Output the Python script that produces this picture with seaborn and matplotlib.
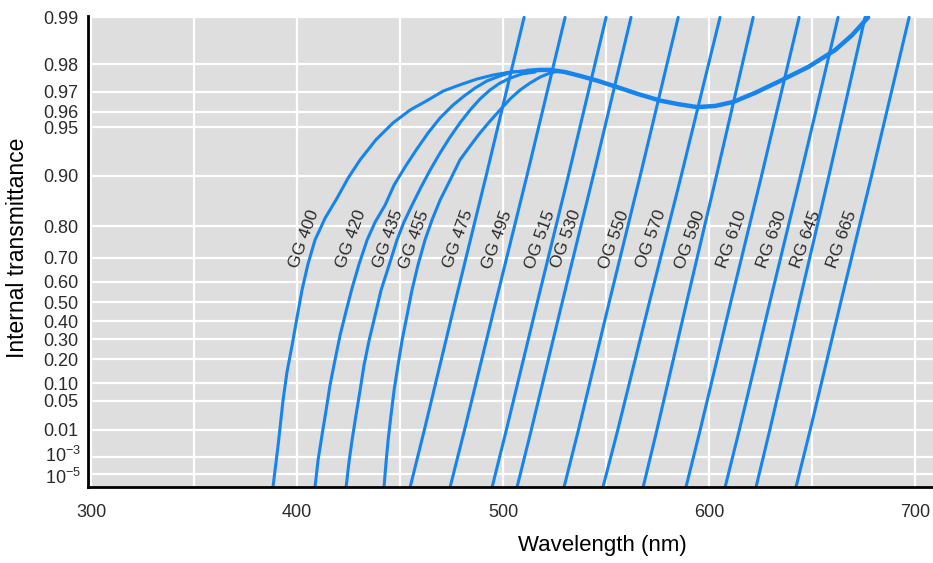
"""
Schott long-pass filter edges: internal transmittance vs wavelength.
Y axis uses a log(-ln T) (log optical density) scale, squeezed below 1e-3.
"""

import numpy as np
import pandas as pd
import matplotlib
matplotlib.use("Agg")
import matplotlib.pyplot as plt
import seaborn as sns
from matplotlib.ticker import FixedLocator, FixedFormatter
from matplotlib.transforms import blended_transform_factory, offset_copy

# ---- data (wavelength in nm, internal transmittance) ----
# steep edges: wavelength read at these transmittance levels
EDGE_T = [5e-8, 0.01, 0.5, 0.9, 0.99]
GG475_WL = [454.9, 461.8, 476.7, 491.8, 510.2]
GG495_WL = [474.3, 481.3, 496.4, 511.6, 530.1]
OG515_WL = [494.7, 501.6, 516.6, 531.7, 550.0]
OG530_WL = [506.8, 513.7, 528.7, 543.8, 562.1]
OG550_WL = [529.6, 536.6, 551.5, 566.6, 585.0]
OG570_WL = [548.5, 555.7, 571.0, 586.5, 605.3]
OG590_WL = [568.0, 574.7, 589.1, 603.6, 621.4]
RG610_WL = [588.8, 595.7, 610.5, 625.5, 643.7]
RG630_WL = [607.8, 614.7, 629.5, 644.4, 662.6]
RG645_WL = [622.8, 629.5, 643.8, 658.2, 675.7]
RG665_WL = [642.2, 649.1, 663.9, 678.9, 697.1]

# GG curves that roll over into the common plateau
GG400_WL = [388.3, 390.8, 393.2, 395.1, 397.6, 400.0, 402.4, 405.3, 408.7, 413.6, 419.4, 424.8,
            430.6, 438.3, 446.6, 454.9, 463.1, 470.9, 479.1, 487.4, 495.1, 503.4, 511.7]
GG400_T = [5e-8, 0.00311, 0.052, 0.142, 0.271, 0.422, 0.562, 0.676, 0.760, 0.820, 0.863, 0.8965,
           0.920, 0.940, 0.953, 0.961, 0.966, 0.9704, 0.973, 0.9752, 0.9766, 0.9776, 0.978]
GG420_WL = [408.7, 410.2, 412.1, 414.1, 416.0, 418.4, 420.9, 423.8, 426.7, 430.1, 434.0, 437.9, 442.7,
            447.1, 452.4, 457.8, 463.6, 469.4, 475.7, 481.1, 486.4, 492.2, 498.5, 504.4, 511.7]
GG420_T = [5e-8, 5.4e-4, 0.00687, 0.0323, 0.0939, 0.1953, 0.324, 0.4545, 0.571, 0.6756, 0.760, 0.8104,
           0.849, 0.8858, 0.9113, 0.9304, 0.9456, 0.9562, 0.9637, 0.9682, 0.9717, 0.9745, 0.9763,
           0.9776, 0.978]
GG435_WL = [423.8, 425.2, 426.7, 428.6, 430.6, 432.5, 435.0, 437.9, 440.8, 444.7, 448.5, 451.9, 455.8,
            460.2, 464.6, 469.4, 474.3, 479.1, 484.0, 488.8, 493.7, 498.5, 503.4, 509.2, 515.5]
GG435_T = [5e-8, 3.4e-4, 0.0047, 0.0248, 0.078, 0.172, 0.297, 0.433, 0.562, 0.672, 0.760, 0.8104,
           0.849, 0.8825, 0.9075, 0.9274, 0.9423, 0.953, 0.961, 0.9668, 0.9709, 0.9737, 0.9755,
           0.977, 0.9776]
GG455_WL = [442.2, 443.2, 444.2, 445.6, 447.1, 449.0, 451.0, 453.4, 455.8, 458.7, 462.1, 465.5, 469.4,
            474.3, 479.1, 484.0, 488.8, 493.7, 498.5, 503.4, 508.3, 513.1, 518.0, 522.8, 527.7]
GG455_T = [5e-8, 3.4e-4, 0.0047, 0.0248, 0.078, 0.172, 0.297, 0.433, 0.562, 0.672, 0.760, 0.8155,
           0.859, 0.8935, 0.920, 0.9343, 0.9456, 0.9542, 0.961, 0.9668, 0.9709, 0.9737, 0.9759,
           0.9773, 0.978]

# plateau shared by the GG glasses
PLATEAU_WL = [511.7, 518.0, 522.8, 530.1, 537.4, 546.1, 555.3, 565.5, 576.2, 584.9, 594.2,
              602.9, 611.7, 622.3, 634.5, 648.1, 661.2, 669.4, 677.2]
PLATEAU_T = [0.978, 0.9783, 0.9783, 0.9776, 0.9763, 0.9745, 0.9721, 0.9691, 0.966, 0.9642, 0.9626,
             0.9632, 0.9653, 0.9696, 0.9745, 0.9792, 0.9838, 0.987, 0.99]

FILTER_NAMES = ["GG 400", "GG 420", "GG 435", "GG 455", "GG 475", "GG 495", "OG 515", "OG 530",
                "OG 550", "OG 570", "OG 590", "RG 610", "RG 630", "RG 645", "RG 665"]
LABEL_WL = [403.4, 426.2, 444.2, 456.8, 478.2, 497.1, 518.0, 530.6,
            553.9, 571.8, 590.8, 611.2, 630.6, 647.1, 664.6]
LABEL_T = 0.762

Y_TICKS = [0.99, 0.98, 0.97, 0.96, 0.95, 0.90, 0.80, 0.70, 0.60, 0.50,
           0.40, 0.30, 0.20, 0.10, 0.05, 0.01, 1e-3, 1e-5]
Y_TICK_LABELS = ["0.99", "0.98", "0.97", "0.96", "0.95", "0.90", "0.80", "0.70", "0.60", "0.50",
                 "0.40", "0.30", "0.20", "0.10", "0.05", "0.01", "", ""]
POWER_TICKS = [1e-3, 1e-5]
POWER_LABELS = [r"$10^{-3}$", r"$10^{-5}$"]
X_TICKS = [300, 400, 500, 600, 700]
X_GRID = [350, 450, 550, 650]

BLUE = "#1684ee"
TEXT = "#2b2b2b"

# ---- y scale: log10(-ln T), compressed by half below T = 1e-3 ----
Q_KNEE = np.log10(-np.log(1e-3))


def forward(t):
    t = np.clip(np.asarray(t, dtype=float), 1e-300, 1 - 1e-12)
    q = np.log10(-np.log(t))
    q = np.where(q > Q_KNEE, Q_KNEE + (q - Q_KNEE) * 0.5, q)
    return -q


def inverse(y):
    q = -np.asarray(y, dtype=float)
    q = np.where(q > Q_KNEE, Q_KNEE + (q - Q_KNEE) * 2.0, q)
    with np.errstate(over="ignore"):
        return np.exp(-np.power(10.0, q))


# ---- long table for seaborn ----
edges = {
    "GG 475": GG475_WL, "GG 495": GG495_WL, "OG 515": OG515_WL, "OG 530": OG530_WL,
    "OG 550": OG550_WL, "OG 570": OG570_WL, "OG 590": OG590_WL, "RG 610": RG610_WL,
    "RG 630": RG630_WL, "RG 645": RG645_WL, "RG 665": RG665_WL,
}
rolled = {
    "GG 400": (GG400_WL, GG400_T), "GG 420": (GG420_WL, GG420_T),
    "GG 435": (GG435_WL, GG435_T), "GG 455": (GG455_WL, GG455_T),
}
frames = []
for name, (wl, tr) in rolled.items():
    frames.append(pd.DataFrame({"filter": name, "wavelength": wl, "transmittance": tr}))
for name, wl in edges.items():
    frames.append(pd.DataFrame({"filter": name, "wavelength": wl, "transmittance": EDGE_T}))
df = pd.concat(frames, ignore_index=True)
plateau = pd.DataFrame({"wavelength": PLATEAU_WL, "transmittance": PLATEAU_T})

sns.set_theme(style="darkgrid")
plt.rcParams["font.family"] = ["Liberation Sans", "DejaVu Sans"]
plt.rcParams["mathtext.fontset"] = "custom"
plt.rcParams["mathtext.rm"] = "Liberation Sans"
plt.rcParams["mathtext.it"] = "Liberation Sans:italic"

fig = plt.figure(figsize=(9.33, 5.63), dpi=100)
ax = fig.add_axes([88 / 933, 1 - 487 / 563, 845 / 933, 471 / 563])
ax.set_facecolor("#dedede")
ax.set_yscale("function", functions=(forward, inverse))

sns.lineplot(data=df, x="wavelength", y="transmittance", units="filter", estimator=None,
             sort=False, color=BLUE, lw=2.2, ax=ax)
sns.lineplot(data=plateau, x="wavelength", y="transmittance", estimator=None,
             sort=False, color=BLUE, lw=3.2, ax=ax)

ax.set_xlim(298.5, 708.7)
ax.set_ylim(5e-8, 0.9902)

ax.yaxis.set_major_locator(FixedLocator(Y_TICKS))
ax.yaxis.set_major_formatter(FixedFormatter(Y_TICK_LABELS))
ax.yaxis.set_minor_locator(FixedLocator([]))
ax.xaxis.set_major_locator(FixedLocator(X_TICKS))
ax.xaxis.set_minor_locator(FixedLocator(X_GRID))
ax.grid(which="major", color="white", lw=1.6)
ax.grid(which="minor", axis="x", color="white", lw=1.6)
ax.tick_params(axis="both", which="both", length=0, labelsize=13, labelcolor=TEXT)
ax.tick_params(axis="y", pad=7)
ax.tick_params(axis="x", pad=12)

# power-of-ten labels drawn by hand so they do not collide
ylab = blended_transform_factory(ax.transAxes, ax.transData)
for val, lab, dy in zip(POWER_TICKS, POWER_LABELS, [1, -3]):
    ax.text(0, val, lab, ha="right", va="center", fontsize=13, color=TEXT,
            transform=offset_copy(ylab, fig=fig, x=-5, y=dy, units="points"))

for side in ["top", "right"]:
    ax.spines[side].set_visible(False)
for side in ["left", "bottom"]:
    ax.spines[side].set_visible(True)
    ax.spines[side].set_color("black")
    ax.spines[side].set_linewidth(2)

ax.set_xlabel("")
ax.set_ylabel("")
fig.text(602 / 933, 1 - 545 / 563, "Wavelength (nm)", ha="center", va="center",
         fontsize=16, color="black")
fig.text(18 / 933, 1 - 248 / 563, "Internal transmittance", ha="center", va="center",
         rotation=90, fontsize=16.5, color="black")

for name, wl in zip(FILTER_NAMES, LABEL_WL):
    ax.text(wl, LABEL_T, name, rotation=70, ha="center", va="center",
            fontsize=12.5, color=TEXT)

fig.savefig("out.png", dpi=100)
